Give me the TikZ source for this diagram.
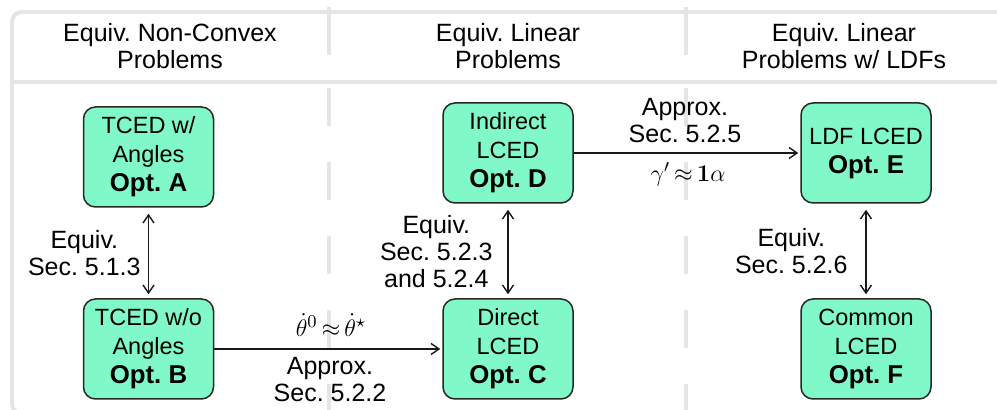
\documentclass[tikz,border=0pt]{standalone}
\usepackage[no-math]{fontspec}
\setmainfont{Liberation Sans}
\usetikzlibrary{arrows.meta}
\frenchspacing
\definecolor{boxfill}{RGB}{128,248,200}
\definecolor{framegray}{RGB}{229,229,229}
\newcommand\optname[1]{{\fontsize{12.9}{14.5}\selectfont\bfseries Opt.~#1}}
\tikzset{
  optbox/.style={draw=black!85, fill=boxfill, line width=0.75pt, rounded corners=6pt,
    minimum width=65pt, minimum height=50pt, align=center, inner sep=0pt,
    font=\fontsize{11.75}{14.5}\selectfont},
  lbl/.style={align=center, inner sep=0pt, font=\fontsize{12.5}{13.5}\selectfont},
  hdr/.style={align=center, inner sep=0pt, font=\fontsize{12.5}{13.5}\selectfont},
  link/.style={line width=0.7pt, draw=black!90},
  both/.style={link, {Straight Barb[length=4pt,width=5.5pt]}-{Straight Barb[length=4pt,width=5.5pt]}},
  fwd/.style={link, -{Straight Barb[length=4pt,width=5.5pt]}},
  sep/.style={draw=framegray, line width=2pt},
}
\begin{document}
\begin{tikzpicture}[x=0.5pt, y=-0.5pt]
\useasboundingbox (0,0) rectangle (997,410);
\begin{scope}
\clip (0,0) rectangle (997,410);
% outer frame and header rule
\draw[sep, rounded corners=5pt] (12,12) rectangle (1012,414);
\draw[sep] (12,82) -- (1000,82);
% column separators
\foreach \cx in {329,686} {
  \draw[sep, dash pattern=on 24 off 15] (\cx,7) -- (\cx,72);
  \draw[sep, dash pattern=on 19 off 18] (\cx,88) -- (\cx,412);
}
\end{scope}

% column headings
\node[hdr] (h1) at (170,46) {Equiv. Non-Convex\\Problems};
\node[hdr] (h2) at (508,46) {Equiv. Linear\\Problems};
\node[hdr] (h3) at (844,46) {Equiv. Linear\\Problems w/ LDFs};

% problem boxes
\node[optbox] (A) at (148.5,157) {TCED w/\\Angles\\\optname{A}};
\node[optbox] (B) at (148.5,349) {TCED w/o\\Angles\\\optname{B}};
\node[optbox] (D) at (508,153) {Indirect\\LCED\\\optname{D}};
\node[optbox] (C) at (508,349) {Direct\\LCED\\\optname{C}};
\node[optbox] (E) at (866,153) {LDF LCED\\\optname{E}};
\node[optbox] (F) at (866,349) {Common\\LCED\\\optname{F}};

% relations
\draw[both] ([yshift=-3]A.south) -- ([yshift=2]B.north);
\draw[both] ([yshift=-3]D.south) -- ([yshift=2]C.north);
\draw[both] ([yshift=-3]E.south) -- ([yshift=2]F.north);
\draw[fwd] (B.east) -- ([xshift=-1]C.west);
\draw[fwd] (D.east) -- ([xshift=-1]E.west);

% relation labels
\node[lbl, anchor=east] (lab) at (141,253) {Equiv.\\Sec. 5.1.3};
\node[lbl, anchor=east] (ldc) at (493,252) {Equiv.\\Sec. 5.2.3\\and 5.2.4};
\node[lbl, anchor=east] (lef) at (848,251) {Equiv.\\Sec. 5.2.6};
\node[lbl] (lbc1) at (331,325) {$\dot\theta^0\mkern-2mu\approx\mkern-2mu\dot\theta^\star$};
\node[lbl] (lbc2) at (330,380) {Approx.\\Sec. 5.2.2};
\node[lbl] (lde1) at (685,121) {Approx.\\Sec. 5.2.5};
\node[lbl] (lde2) at (688,174) {$\gamma'\mkern-2mu\approx\mkern-2mu\mathbf{1}\alpha$};
\end{tikzpicture}
\end{document}
